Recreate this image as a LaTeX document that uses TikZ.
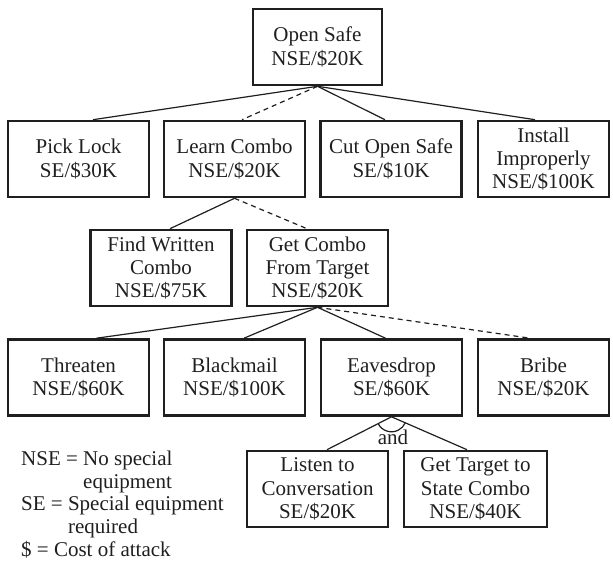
\documentclass[tikz,border=0pt]{standalone}
\usepackage{fontspec}
\setmainfont{Liberation Serif}
\begin{document}
\begin{tikzpicture}[x=1pt,y=1pt,
  every node/.style={text=black!88, font=\fontsize{21}{23.3}\selectfont},
  box/.style={draw=black!88, line width=2.6pt, inner sep=0pt, align=center,
              minimum width=141pt, minimum height=76pt},
  link/.style={draw=black!88, line width=1.2pt},
  opt/.style={link, dash pattern=on 5pt off 4pt}]
\useasboundingbox (0,0) rectangle (613,-567);
% top
\node[box, minimum width=129pt] (safe) at (317.5,-47) {Open Safe\\NSE/\$20K};
% row 2
\node[box] (pick) at (78.5,-159) {Pick Lock\\SE/\$30K};
\node[box] (learn) at (234.5,-159) {Learn Combo\\NSE/\$20K};
\node[box] (cut) at (391,-159) {Cut Open Safe\\SE/\$10K};
\node[box, minimum width=131pt] (install) at (543.5,-159) {Install\\Improperly\\NSE/\$100K};
% row 3
\node[box] (find) at (161,-268) {Find Written\\Combo\\NSE/\$75K};
\node[box] (getcombo) at (317.5,-268) {Get Combo\\From Target\\NSE/\$20K};
% row 4
\node[box] (threaten) at (78.5,-377.5) {Threaten\\NSE/\$60K};
\node[box] (blackmail) at (234.5,-377.5) {Blackmail\\NSE/\$100K};
\node[box] (eaves) at (391.5,-377.5) {Eavesdrop\\SE/\$60K};
\node[box, minimum width=131pt] (bribe) at (543.5,-377.5) {Bribe\\NSE/\$20K};
% row 5
\node[box] (listen) at (317.5,-489) {Listen to\\Conversation\\SE/\$20K};
\node[box, minimum width=143pt] (gettarget) at (475.5,-489) {Get Target to\\State Combo\\NSE/\$40K};
% connectors
\draw[link] (safe.south) -- ([xshift=14.5pt]pick.north);
\draw[opt]  (safe.south) -- ([xshift=7.5pt]learn.north);
\draw[link] (safe.south) -- ([xshift=-6pt]cut.north);
\draw[link] (safe.south) -- ([xshift=-8.5pt]install.north);
\draw[link] (learn.south) -- ([xshift=9pt]find.north);
\draw[opt]  (learn.south) -- ([xshift=-10.5pt]getcombo.north);
\draw[link] (getcombo.south) -- ([xshift=18pt]threaten.north);
\draw[link] (getcombo.south) -- ([xshift=9.5pt]blackmail.north);
\draw[link] (getcombo.south) -- ([xshift=-6pt]eaves.north);
\draw[opt]  (getcombo.south) -- ([xshift=-13.5pt]bribe.north);
\draw[link] (eaves.south) -- ([xshift=9.5pt]listen.north);
\draw[link] (eaves.south) -- ([xshift=-8.5pt]gettarget.north);
\draw[link] (eaves.south) ++(207.6:15pt) arc[start angle=207.6, end angle=335.6, radius=15pt];
\node (and) at (393,-437) {and};
% legend
\node[anchor=north west, align=left, inner sep=0pt, font=\fontsize{21}{22.6}\selectfont] (legend) at (21,-451)
 {NSE = No special\\
  \phantom{NSE = }equipment\\
  SE = Special equipment\\
  \phantom{SE = }required\\
  \$ = Cost of attack};
\end{tikzpicture}
\end{document}
